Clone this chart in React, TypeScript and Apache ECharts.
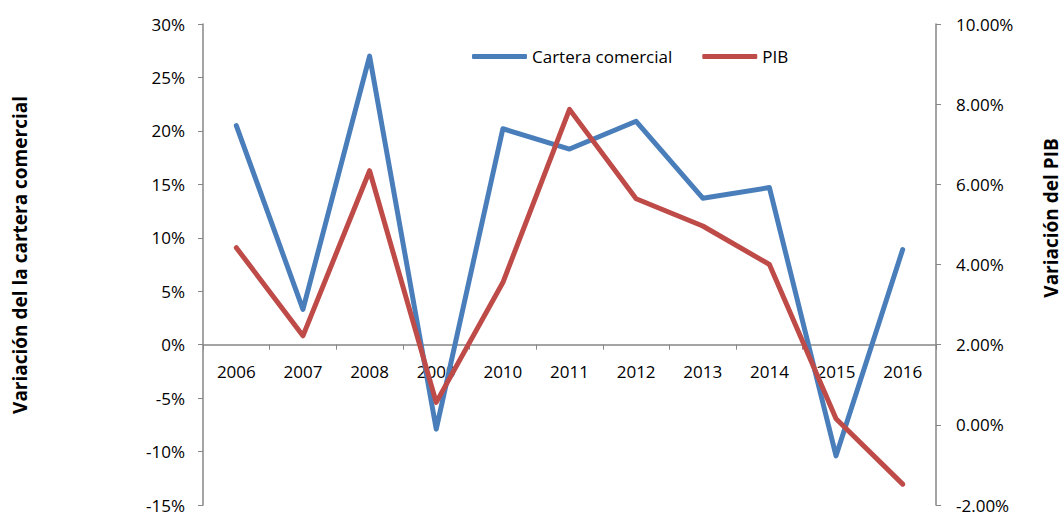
import React, { useEffect, useRef } from "react";
import * as echarts from "echarts";

// Years on the category axis
const years = ["2006", "2007", "2008", "2009", "2010", "2011", "2012", "2013", "2014", "2015", "2016"];
// Annual variation of the commercial loan portfolio (%), left axis
const carteraComercial = [20.5, 3.3, 27.0, -7.9, 20.2, 18.3, 20.9, 13.7, 14.7, -10.4, 8.9];
// Annual GDP variation (%), right axis
const pib = [4.42, 2.22, 6.34, 0.56, 3.55, 7.87, 5.64, 4.96, 4.0, 0.15, -1.48];

// Left axis range (%)
const leftMin = -15;
const leftMax = 30;
const leftStep = 5;
// Right axis range (%)
const rightMin = -2;
const rightMax = 10;
const rightStep = 2;

const FONT = "Open Sans";
const BLUE = "#4A7EBB";
const RED = "#BE4B48";
const AXIS_GRAY = "#868686";

const WIDTH = 1064;
const HEIGHT = 516;
const GRID = { left: 203, right: 128, top: 24, bottom: 11 };

export default function App() {
  const ref = useRef<HTMLDivElement>(null);

  useEffect(() => {
    if (!ref.current) return;
    const chart = echarts.init(ref.current, undefined, { renderer: "svg" });

    // The category axis sits on the 0% line of the left axis
    const plotHeight = HEIGHT - GRID.top - GRID.bottom;
    const zeroOffset = -plotHeight * ((0 - leftMin) / (leftMax - leftMin));

    chart.setOption({
      animation: false,
      backgroundColor: "#ffffff",
      textStyle: { fontFamily: FONT },
      grid: { ...GRID, containLabel: false, outerBoundsMode: "none" },
      legend: {
        top: 48,
        left: 472,
        padding: 0,
        itemWidth: 55,
        itemHeight: 5,
        itemGap: 30,
        icon: "roundRect",
        textStyle: { fontFamily: FONT, fontSize: 17, color: "#000" },
        data: ["Cartera comercial", "PIB"],
      },
      graphic: [
        {
          type: "text",
          x: 20,
          y: 255,
          rotation: Math.PI / 2,
          style: {
            text: "Variación del la cartera comercial",
            font: `bold 19px ${FONT}`,
            fill: "#000",
            align: "center",
            verticalAlign: "middle",
          },
        },
        {
          type: "text",
          x: 1051,
          y: 218,
          rotation: Math.PI / 2,
          style: {
            text: "Variación del PIB",
            font: `bold 19px ${FONT}`,
            lineHeight: 20,
            fill: "#000",
            align: "center",
            verticalAlign: "middle",
          },
        },
      ],
      xAxis: {
        type: "category",
        data: years,
        boundaryGap: true,
        position: "bottom",
        offset: zeroOffset,
        axisLine: { onZero: false, lineStyle: { color: AXIS_GRAY, width: 1.5 } },
        axisTick: { show: true, inside: false, length: 5, lineStyle: { color: AXIS_GRAY } },
        axisLabel: { color: "#000", fontSize: 17, fontFamily: FONT, margin: 18 },
        splitLine: { show: false },
      },
      yAxis: [
        {
          type: "value",
          min: leftMin,
          max: leftMax,
          interval: leftStep,
          axisLine: { show: true, lineStyle: { color: AXIS_GRAY, width: 1.5 } },
          axisTick: { show: true, length: 5, lineStyle: { color: AXIS_GRAY } },
          axisLabel: {
            color: "#000",
            fontSize: 17,
            lineHeight: 15,
            fontFamily: FONT,
            margin: 18,
            formatter: (v: number) => `${v}%`,
          },
          splitLine: { show: false },
        },
        {
          type: "value",
          min: rightMin,
          max: rightMax,
          interval: rightStep,
          position: "right",
          axisLine: { show: true, lineStyle: { color: AXIS_GRAY, width: 1.5 } },
          axisTick: { show: true, length: 5, lineStyle: { color: AXIS_GRAY } },
          axisLabel: {
            color: "#000",
            fontSize: 17,
            lineHeight: 15,
            fontFamily: FONT,
            margin: 20,
            formatter: (v: number) => `${v.toFixed(2)}%`,
          },
          splitLine: { show: false },
        },
      ],
      series: [
        {
          name: "Cartera comercial",
          type: "line",
          yAxisIndex: 0,
          data: carteraComercial,
          showSymbol: false,
          symbol: "none",
          color: BLUE,
          lineStyle: { color: BLUE, width: 5, cap: "round", join: "round" },
        },
        {
          name: "PIB",
          type: "line",
          yAxisIndex: 1,
          data: pib,
          showSymbol: false,
          symbol: "none",
          color: RED,
          lineStyle: { color: RED, width: 5, cap: "round", join: "round" },
        },
      ],
    });
    return () => chart.dispose();
  }, []);

  return (
    <div
      ref={ref}
      style={{ position: "absolute", left: 0, top: 0, width: WIDTH, height: HEIGHT }}
    />
  );
}
